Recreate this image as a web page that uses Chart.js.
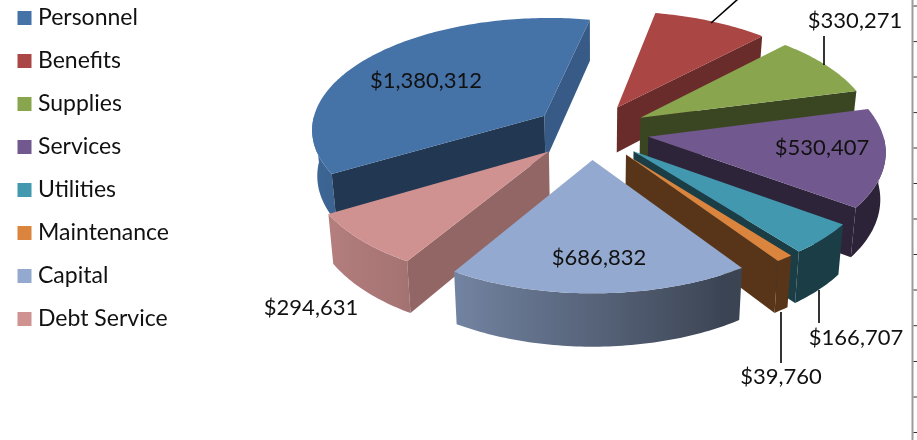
<!DOCTYPE html>
<html>
<head>
<meta charset="utf-8">
<style>
  html, body { margin: 0; padding: 0; background: #fff; overflow: hidden; }
  canvas { display: block; }
</style>
<script src="https://cdn.jsdelivr.net/npm/chart.js@4"></script>
</head>
<body>
<canvas id="expenses" width="917" height="440"></canvas>
<script>
// Budget categories and dollar amounts
const categories = ['Personnel', 'Benefits', 'Supplies', 'Services', 'Utilities', 'Maintenance', 'Capital', 'Debt Service'];
const amounts = [1380312, 340000, 330271, 530407, 166707, 39760, 686832, 294631];
const sliceColors = ['#4572A7', '#AA4643', '#89A54E', '#71588F', '#4198AF', '#DB843D', '#93A9CF', '#D09291'];

// Where each value label sits; the Benefits label falls above the page and is left out
const labelSpots = [[426, 81], null, [855, 21], [822, 148], [856, 338], [781, 377], [599, 258], [311, 308]];
const leaderLines = [[711, 23, 738, -1], [824, 36, 824, 65], [819, 290, 819, 323], [781, 312, 781, 363]];
const sheetTickRows = [6, 41.6, 77, 112.6, 148, 183.5, 219, 254.5, 290, 325.7, 361.5, 397, 432.5];

// Tilted view of the pie plane
const view = { cx: 591, cy: 131.6, squash: 0.478, perspective: 0.00047, depth: 46, taper: 0.0004 };

const project = (u, v, z) => {
  const s = 1 / (1 + view.perspective * v);
  return [view.cx + u * s * (1 - view.taper * z), view.cy - v * view.squash * s + z * s];
};

const lookup = (table, x) => {
  if (x <= table[0][0]) return table[0][1];
  for (let i = 1; i < table.length; i++) {
    if (x <= table[i][0]) {
      const t = (x - table[i - 1][0]) / (table[i][0] - table[i - 1][0]);
      return table[i - 1][1] + t * (table[i][1] - table[i - 1][1]);
    }
  }
  return table[table.length - 1][1];
};
const rimShade = [[150, 0.40], [214, 0.80], [270, 0.95]];
const cutShade = [[104, 0.80], [124, 0.68], [135, 0.62], [152, 0.47], [166, 0.42], [240, 0.40]];

const shaded = (hex, k) => {
  const n = parseInt(hex.slice(1), 16);
  return `rgb(${Math.round((n >> 16) * k)},${Math.round(((n >> 8) & 255) * k)},${Math.round((n & 255) * k)})`;
};
const fillPoly = (ctx, pts, color) => {
  ctx.beginPath();
  pts.forEach((p, i) => i ? ctx.lineTo(p[0], p[1]) : ctx.moveTo(p[0], p[1]));
  ctx.closePath();
  ctx.fillStyle = color;
  ctx.fill();
};
const clockDeg = a => (((a * 180 / Math.PI + 90) % 360) + 360) % 360;

function drawSlice(ctx, arc) {
  const color = arc.options.backgroundColor;
  const mid = (arc.startAngle + arc.endAngle) / 2;
  const ax = Math.cos(mid) * arc.options.offset;
  const ay = -Math.sin(mid) * arc.options.offset;
  const R = arc.outerRadius;
  const steps = Math.max(2, Math.ceil((arc.endAngle - arc.startAngle) * 180 / Math.PI));
  const rim = [];
  for (let i = 0; i <= steps; i++) {
    const a = arc.startAngle + (arc.endAngle - arc.startAngle) * i / steps;
    rim.push([ax + Math.cos(a) * R, ay - Math.sin(a) * R, a]);
  }
  // Outer wall: the part of the rim facing the viewer, with a left-to-right light falloff
  const front = rim.filter(p => Math.sin(p[2]) > 0);
  if (front.length > 1) {
    const tops = front.map(p => project(p[0], p[1], 0));
    const bottoms = front.map(p => project(p[0], p[1], view.depth));
    const xs = tops.map(p => p[0]);
    const xMin = Math.min(...xs), xMax = Math.max(...xs);
    const wash = ctx.createLinearGradient(xMin, 0, xMax, 0);
    front.forEach((p, i) => {
      wash.addColorStop((xs[i] - xMin) / (xMax - xMin || 1), shaded(color, lookup(rimShade, clockDeg(p[2]))));
    });
    fillPoly(ctx, [...tops, ...bottoms.reverse()], wash);
  }
  // Cut faces on both sides of the wedge, when they face the viewer
  [[rim[0], arc.startAngle - Math.PI / 2], [rim[steps], arc.endAngle + Math.PI / 2]].forEach(([p, normal]) => {
    if (Math.sin(normal) <= 0) return;
    fillPoly(ctx, [project(ax, ay, 0), project(p[0], p[1], 0), project(p[0], p[1], view.depth), project(ax, ay, view.depth)],
      shaded(color, lookup(cutShade, clockDeg(normal))));
  });
  // Top surface
  fillPoly(ctx, [project(ax, ay, 0), ...rim.map(p => project(p[0], p[1], 0))], color);
}

const pie3d = {
  id: 'pie3d',
  beforeDatasetDraw(chart, args) {
    const ctx = chart.ctx;
    // Far wedges first, near wedges last
    const order = args.meta.data.slice().sort((a, b) =>
      Math.sin((a.startAngle + a.endAngle) / 2) - Math.sin((b.startAngle + b.endAngle) / 2));
    order.forEach(arc => drawSlice(ctx, arc));
    return false;
  },
  afterDatasetsDraw(chart) {
    const ctx = chart.ctx;
    ctx.save();
    ctx.strokeStyle = '#000';
    ctx.lineWidth = 1.6;
    leaderLines.forEach(l => {
      ctx.beginPath();
      ctx.moveTo(l[0], l[1]);
      ctx.lineTo(l[2], l[3]);
      ctx.stroke();
    });
    ctx.fillStyle = '#111';
    ctx.font = '22px Lato';
    ctx.textAlign = 'center';
    ctx.textBaseline = 'middle';
    amounts.forEach((value, i) => {
      if (labelSpots[i]) ctx.fillText('$' + value.toLocaleString('en-US'), labelSpots[i][0], labelSpots[i][1]);
    });
    ctx.restore();
  },
  beforeDraw(chart) {
    // Sheet edge along the right side
    const ctx = chart.ctx;
    ctx.save();
    ctx.fillStyle = '#9c9c9c';
    ctx.fillRect(911.5, 0, 2, 440);
    ctx.strokeStyle = '#333';
    ctx.lineWidth = 1;
    sheetTickRows.forEach(y => {
      ctx.beginPath();
      ctx.moveTo(913.5, y);
      ctx.lineTo(917, y);
      ctx.stroke();
    });
    ctx.restore();
  }
};

const canvas = document.getElementById('expenses');
// Plain glyphs, no ligatures in the legend or the labels
canvas.getContext('2d').textRendering = 'optimizeSpeed';

new Chart(canvas, {
  type: 'pie',
  data: {
    labels: categories,
    datasets: [{ data: amounts, backgroundColor: sliceColors, borderWidth: 0, offset: 58 }]
  },
  plugins: [pie3d],
  options: {
    responsive: false,
    animation: false,
    rotation: 239.5,
    radius: 234,
    layout: { padding: { top: -13.5, left: 2.5 } },
    plugins: {
      tooltip: { enabled: false },
      legend: {
        position: 'left',
        align: 'start',
        labels: {
          color: '#111',
          padding: 20,
          boxWidth: 4,
          boxHeight: 4,
          font: { family: 'Lato', size: 23 },
          generateLabels: chart => Chart.overrides.pie.plugins.legend.labels.generateLabels(chart).map(item => ({
            ...item, lineWidth: 10, strokeStyle: item.fillStyle
          }))
        }
      }
    }
  }
});
</script>
</body>
</html>
